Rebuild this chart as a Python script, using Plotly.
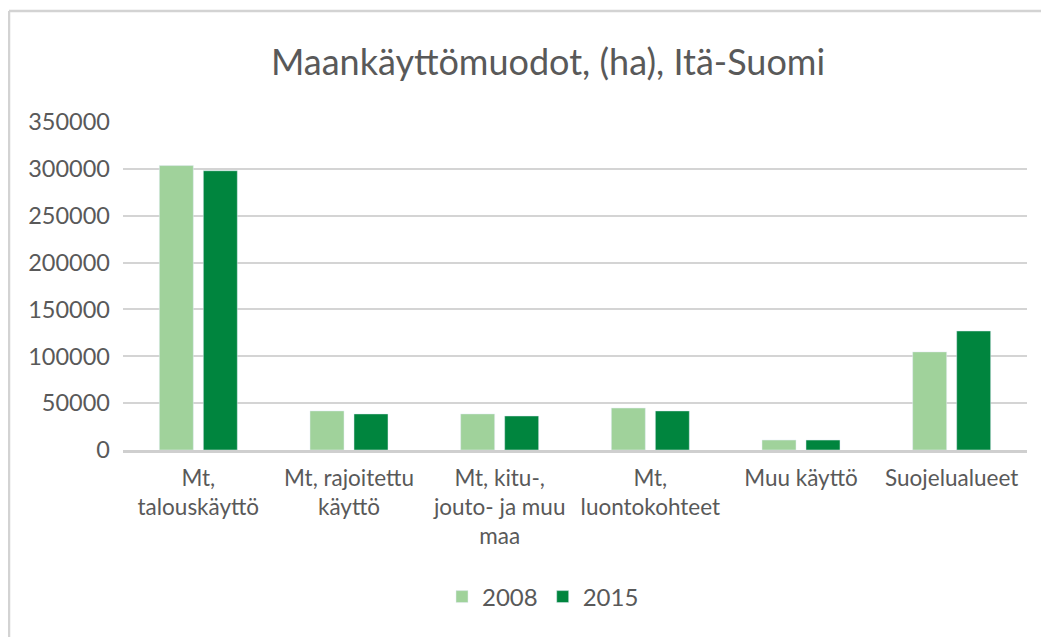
import plotly.graph_objects as go

categories = ["Mt,<br>talouskäyttö", "Mt, rajoitettu<br>käyttö", "Mt, kitu-,<br>jouto- ja muu<br>maa",
              "Mt,<br>luontokohteet", "Muu käyttö", "Suojelualueet"]
values_2008 = [303500, 41700, 38500, 44800, 10600, 104700]
values_2015 = [298000, 38500, 36300, 41700, 10600, 127000]
series_names = ["2008", "2015"]
tick_vals = [0, 50000, 100000, 150000, 200000, 250000, 300000, 350000]
tick_text = ["0", "50000", "100000", "150000", "200000", "250000", "300000", "350000"]

FONT = "Lato, 'Open Sans', sans-serif"
TXT = "#595959"
GRID = "#D4D4D4"

fig = go.Figure()
fig.add_bar(x=categories, y=values_2008, name=series_names[0], marker_color="#A0D29B")
fig.add_bar(x=categories, y=values_2015, name=series_names[1], marker_color="#00853E")

OFF = 8  # page body margin
W, H = 1049 - OFF, 637 - OFF
ml = 123 - OFF
mt = 122 - OFF
plot_r = 1027 - OFF
plot_b = 450 - OFF
mr = W - plot_r
mb = H - plot_b
pw, ph = W - ml - mr, H - mt - mb
bx = (9 - OFF - ml) / pw
by = 1 + (mt - (11 - OFF)) / ph

fig.update_layout(
    width=W, height=H,
    margin=dict(l=ml, r=mr, t=mt, b=mb),
    paper_bgcolor="white", plot_bgcolor="white",
    barmode="group", bargap=0.416, bargroupgap=0.227,
    font=dict(family=FONT, color=TXT, size=22),
    title=dict(text="Maankäyttömuodot, (ha), Itä-Suomi", x=(548 - OFF) / W, xref="container", xanchor="center",
               y=1 - (62 - OFF) / H, yref="container", yanchor="middle",
               font=dict(family=FONT, size=36, color=TXT)),
    legend=dict(orientation="h", x=(543 - OFF) / W, xref="container", xanchor="center",
                y=1 - (597 - OFF) / H, yref="container", yanchor="middle",
                font=dict(size=24, color=TXT), itemwidth=30, tracegroupgap=0),
    xaxis=dict(showgrid=False, showline=True, linecolor="#CFCFCF", linewidth=2.5, ticks="",
               tickfont=dict(size=22.5, color=TXT), ticklabelstandoff=6),
    yaxis=dict(range=[0, 350000], tickvals=tick_vals, ticktext=tick_text, showgrid=True,
               gridcolor=GRID, gridwidth=2, zeroline=False, showline=False, ticks="",
               tickfont=dict(size=23.5, color=TXT), ticklabelstandoff=12),
    shapes=[
        dict(type="line", xref="paper", yref="paper", x0=bx, x1=1.2, y0=by, y1=by,
             line=dict(color="#D3D3D3", width=2.5)),
        dict(type="line", xref="paper", yref="paper", x0=bx, x1=bx, y0=by, y1=-1.0,
             line=dict(color="#D3D3D3", width=2.5)),
    ],
)

fig.write_html("out.html")
